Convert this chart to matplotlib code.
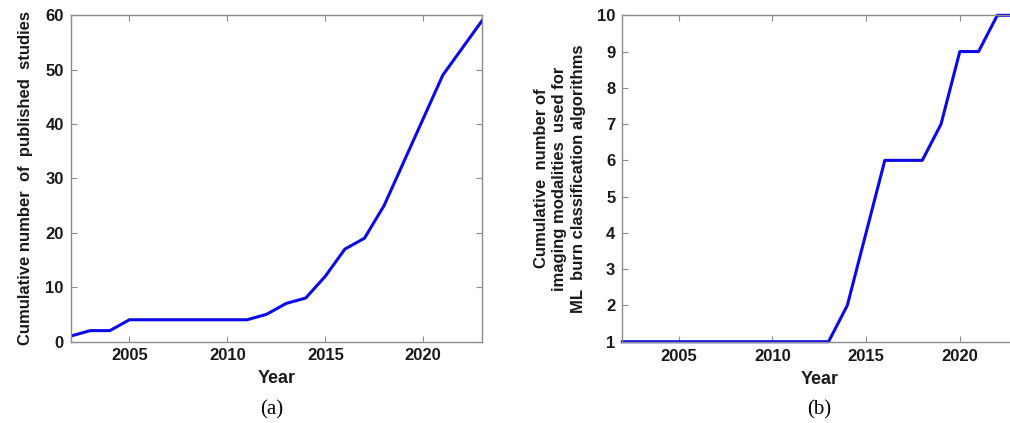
import matplotlib.pyplot as plt

# cumulative counts per year
years = list(range(2002, 2024))
studies = [1, 2, 2, 4, 4, 4, 4, 4, 4, 4, 5, 7, 8, 12, 17, 19, 25, 33, 41, 49, 54, 59]
modalities = [1, 1, 1, 1, 1, 1, 1, 1, 1, 1, 1, 2, 4, 6, 6, 6, 7, 9, 9, 10, 10]
modality_years = list(range(2002, 2012)) + [2013, 2014, 2015, 2016, 2017, 2018, 2019, 2020, 2021, 2022, 2023]
x_ticks = [2005, 2010, 2015, 2020]

plt.rcParams["font.family"] = ["Liberation Sans", "DejaVu Sans"]
plt.rcParams["font.weight"] = "bold"

W, H = 1010, 423
fig = plt.figure(figsize=(W / 100, H / 100), dpi=100)

frame = "#8c8c8c"
blue = "#0a0ae8"
ink = "#1a1a1a"


def px_axes(left, top, right, bottom):
    return fig.add_axes([left / W, 1 - bottom / H, (right - left) / W, (bottom - top) / H])


def style(ax):
    for s in ax.spines.values():
        s.set_color(frame)
        s.set_linewidth(1.0)
    ax.tick_params(direction="in", length=4, width=0.8, color=frame,
                   top=True, right=True, labelsize=12, pad=5)
    for lab in ax.get_xticklabels() + ax.get_yticklabels():
        lab.set_fontweight("bold")
        lab.set_color(ink)


ax1 = px_axes(70.7, 15.3, 482, 341.5)
ax1.plot(years, studies, color=blue, linewidth=2.2)
ax1.set_xlim(2002, 2023)
ax1.set_ylim(0, 60)
ax1.set_xticks(x_ticks)
ax1.set_yticks(range(0, 61, 10))
style(ax1)
ax1.set_xlabel("Year", fontsize=13, fontweight="bold", color=ink, labelpad=5)
ax1.set_ylabel("Cumulative number  of  published  studies", fontsize=12,
               fontweight="bold", color=ink, labelpad=9)

# the second panel's x range runs past the right edge of the figure
x0, x1 = 622.3, 622.3 + 21 * 18.75
ax2 = px_axes(x0, 15.3, x1, 341.7)
ax2.plot(modality_years, modalities, color=blue, linewidth=2.2, clip_on=False)
ax2.set_xlim(2002, 2023)
ax2.set_ylim(1, 10)
ax2.set_xticks(x_ticks)
ax2.set_yticks(range(1, 11))
style(ax2)
ax2.set_xlabel("Year", fontsize=13, fontweight="bold", color=ink, labelpad=5)
ax2.set_ylabel("Cumulative  number of\nimaging modalities  used for\nML  burn classification algorithms",
               fontsize=12, fontweight="bold", color=ink, labelpad=8,
               linespacing=1.3)

fig.text(272 / W, 1 - 410 / H, "(a)", fontsize=15, family="Liberation Serif",
         fontweight="normal", ha="center", va="center")
fig.text(819 / W, 1 - 410 / H, "(b)", fontsize=15, family="Liberation Serif",
         fontweight="normal", ha="center", va="center")

fig.savefig("out.png", dpi=100)
